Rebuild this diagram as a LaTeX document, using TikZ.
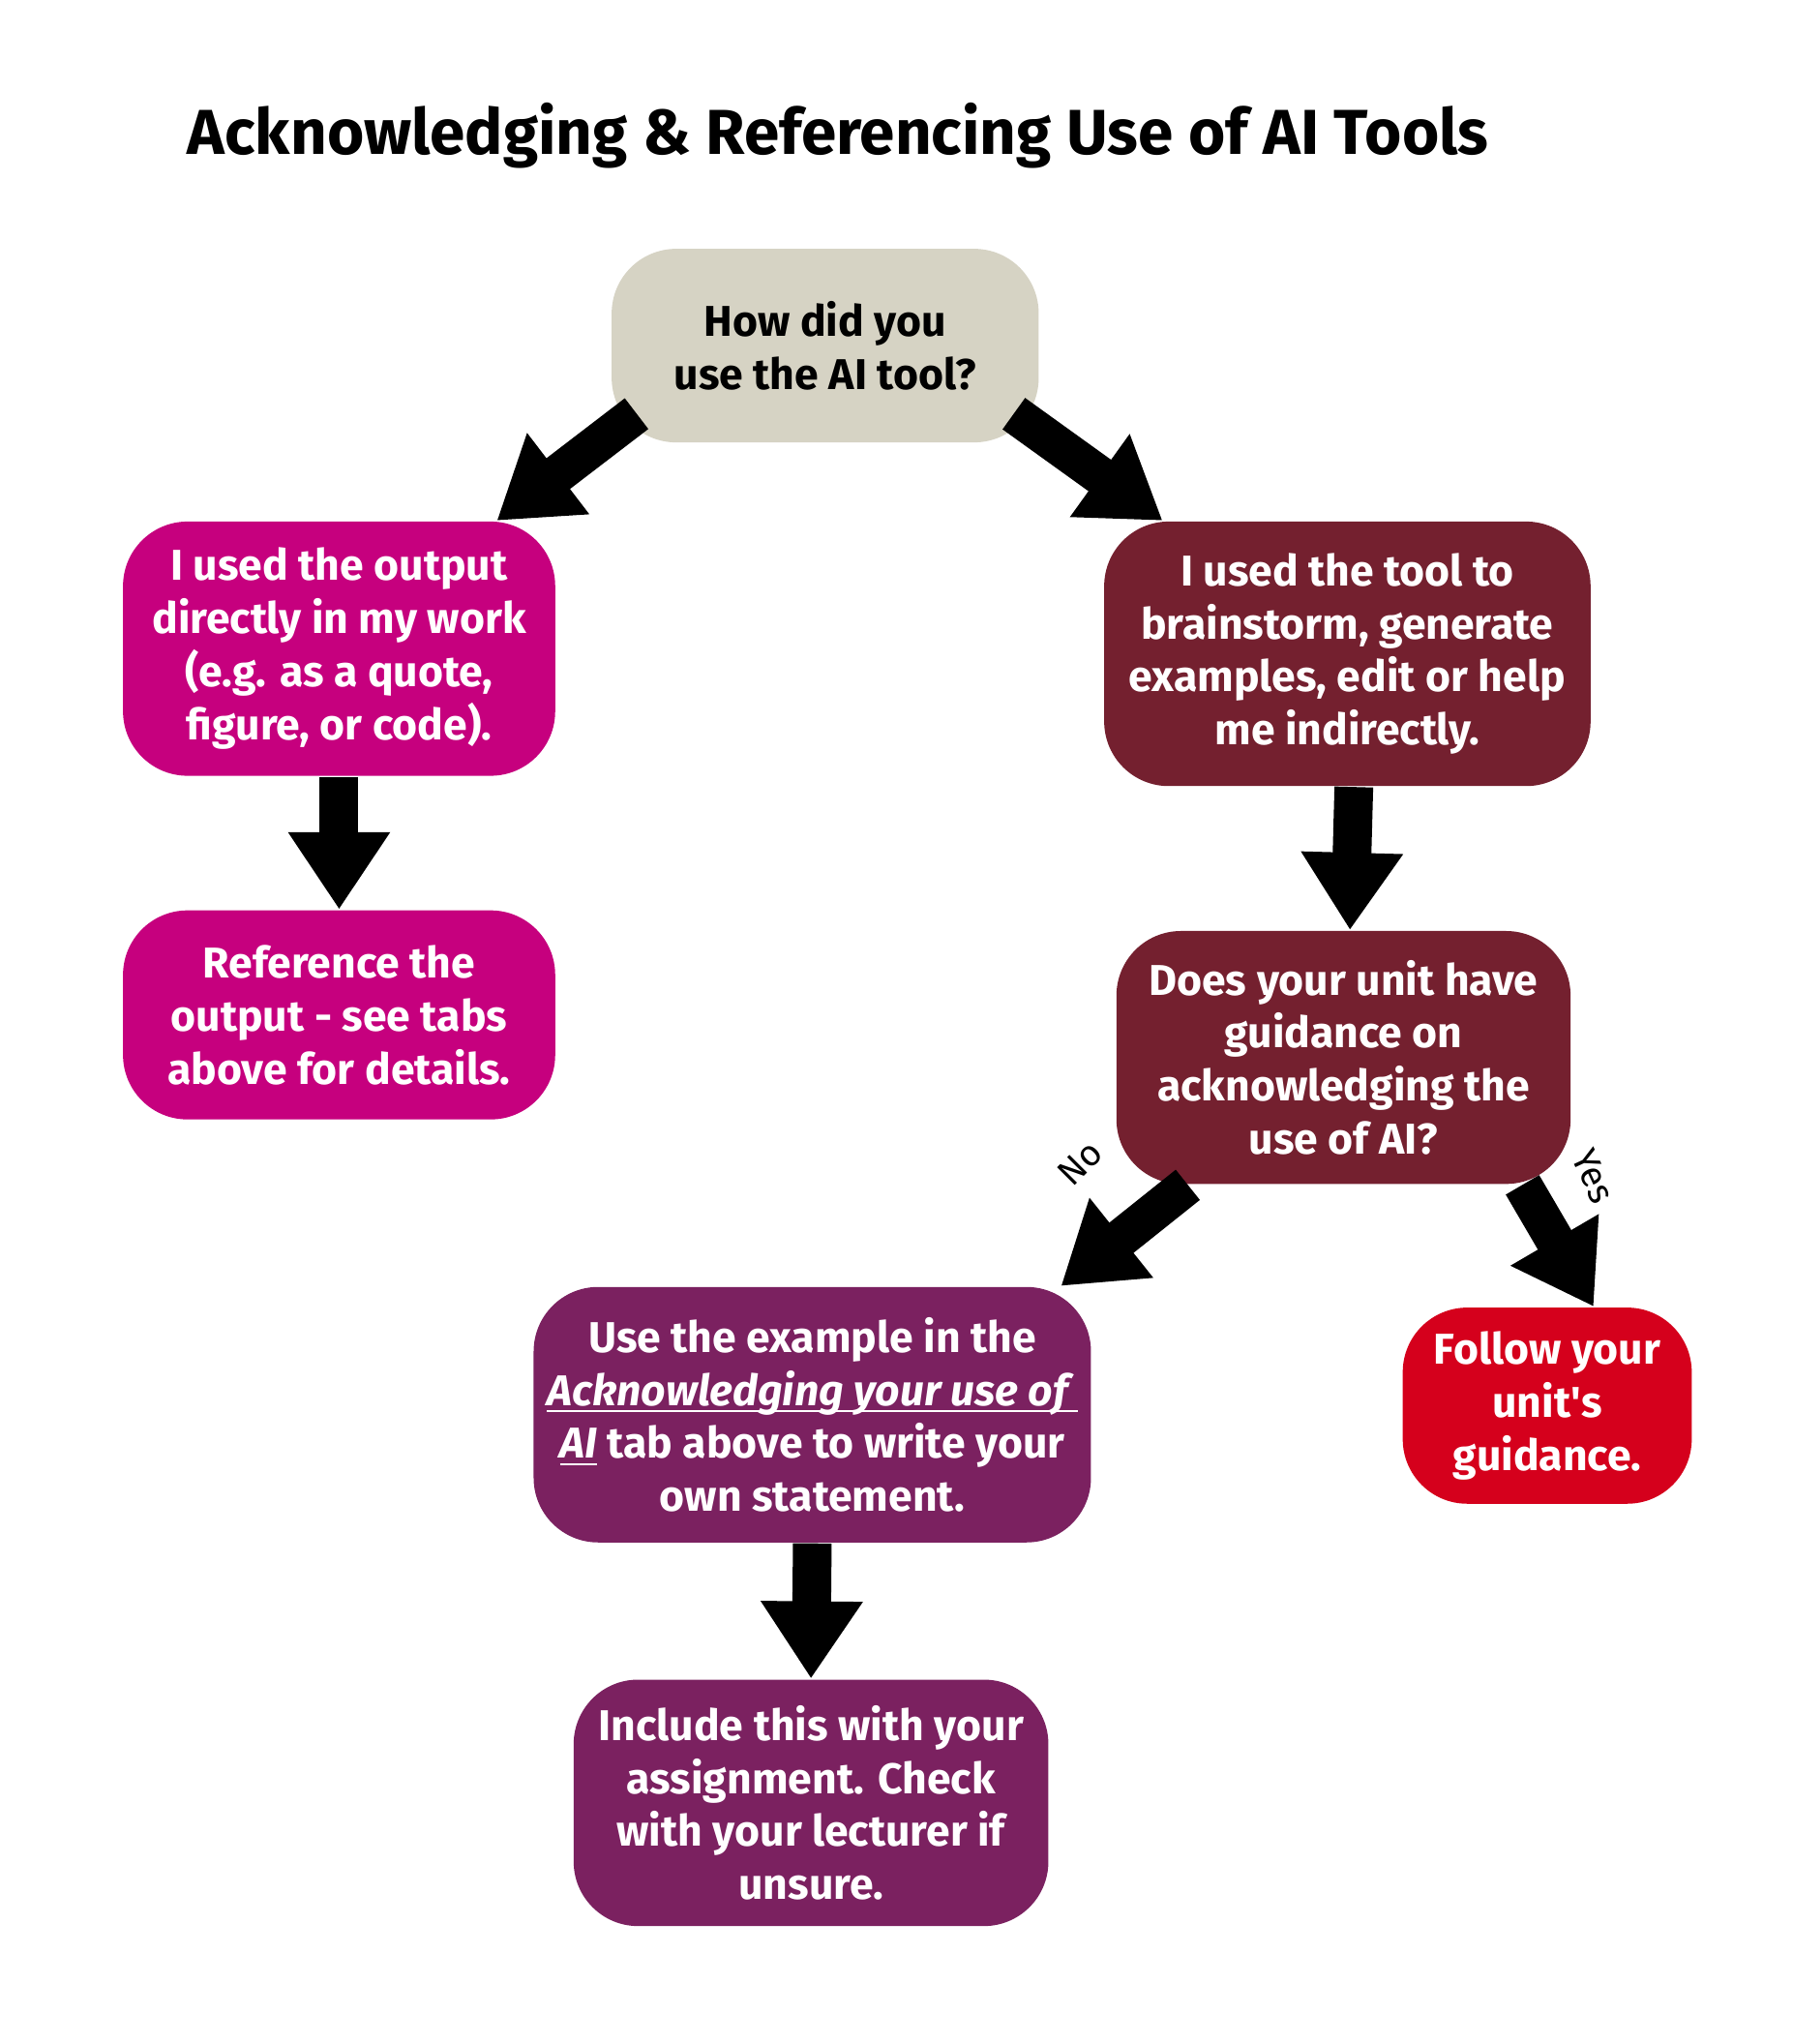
\documentclass[tikz,border=0pt]{standalone}
\usepackage{fontspec}
\setmainfont{Fira Sans}
\usepackage{amsmath}
\usepackage{tikz}
\usetikzlibrary{arrows.meta}
\definecolor{beige}{HTML}{D6D3C4}
\definecolor{magenta}{HTML}{C6007E}
\definecolor{maroon}{HTML}{74202F}
\definecolor{plum}{HTML}{7B2160}
\definecolor{brightred}{HTML}{D5001C}
\begin{document}
\begin{tikzpicture}
          [x=0.01cm,y=-0.01cm,
           box/.style={rounded corners=0.5cm,align=center,inner sep=0pt,
             font=\fontsize{9.5}{11.7}\selectfont\bfseries,text=white},
           flow/.style={line width=0.3cm,-{Triangle[length=6mm,width=7.5mm]}},
           lbl/.style={font=\fontsize{8}{9}\selectfont,inner sep=1pt}
          ]
          \useasboundingbox (0,0) rectangle (1390,1585);
          \node[font=\fontsize{14}{18}\selectfont\bfseries] (title) at (650,105)
            {Acknowledging \& Referencing Use of AI Tools};
          \node[box,fill=beige,text=black,minimum width=3.31cm,minimum height=1.5cm] (how) at (640,268)
            {How did you\\use the AI tool?};
          \node[box,fill=magenta,minimum width=3.35cm,minimum height=1.97cm] (direct) at (263,503)
            {I used the output\\directly in my work\\(e.g. as a quote,\\figure, or code).};
          \node[box,fill=maroon,minimum width=3.77cm,minimum height=2.05cm] (brain) at (1045,507)
            {I used the tool to\\brainstorm, generate\\examples, edit or help\\me indirectly.};
          \node[box,fill=magenta,minimum width=3.35cm,minimum height=1.62cm] (ref) at (263,787)
            {Reference the\\output - see tabs\\above for details.};
          \node[box,fill=maroon,minimum width=3.52cm,minimum height=1.96cm] (unit) at (1042,820)
            {Does your unit have\\guidance on\\acknowledging the\\use of AI?};
          \node[box,fill=plum,minimum width=4.32cm,minimum height=1.98cm] (example) at (630,1097)
            {Use the example in the\\\underline{\smash{\itshape Acknowledging your use of }}\\\underline{\smash{\itshape AI}} tab above to write your\\own statement.};
          \node[box,fill=brightred,minimum width=2.24cm,minimum height=1.52cm] (follow) at (1200,1090)
            {Follow your\\unit\textquotesingle s\\guidance.};
          \node[box,fill=plum,minimum width=3.68cm,minimum height=1.91cm] (include) at (629,1398)
            {Include this with your\\assignment. Check\\with your lecturer if\\unsure.};
          % connectors
          \draw[flow] ([shift={(20,-23)}]how.south west) -- ([xshift=-4.6mm]direct.north east);
          \draw[flow] ([shift={(-20,-23)}]how.south east) -- ([xshift=4.6mm]brain.north west);
          \draw[flow] (direct.south) -- (ref.north);
          \draw[flow] ([xshift=0.5mm]brain.south) -- ([xshift=0.5mm]unit.north);
          \draw[flow] ([xshift=5.6mm]unit.south west) -- ([xshift=-2.4mm]example.north east);
          \draw[flow] ([xshift=-3.8mm]unit.south east) -- ([shift={(36,0)}]follow.north);
          \draw[flow] (example.south) -- (include.north);
          \node[lbl,rotate=45] (no) at (838,902) {No};
          \node[lbl,rotate=-65] (yes) at (1236,912) {Yes};
        \end{tikzpicture}
\end{document}
